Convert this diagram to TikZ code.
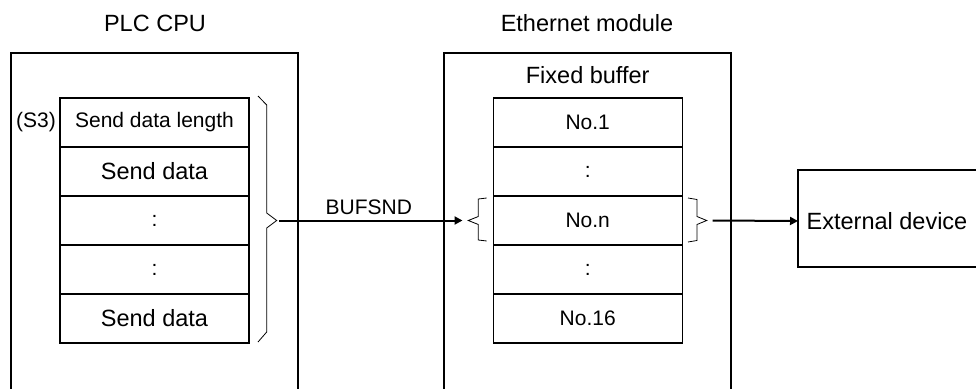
\documentclass[tikz,border=0pt]{standalone}
\usepackage{fontspec}
\setmainfont{Liberation Sans}
\usetikzlibrary{arrows.meta}
\begin{document}
\begin{tikzpicture}[x=1pt,y=-1pt,
  big/.style={font=\fontsize{23.5}{28}\selectfont},
  small/.style={font=\fontsize{21}{25}\selectfont},
  cell/.style={draw,line width=1.2pt,minimum width=189pt,minimum height=49pt,inner sep=0pt,anchor=center},
  frame/.style={line width=1.2pt},
  brace/.style={line width=0.8pt},
  conn/.style={line width=2pt,-{Triangle[length=8pt,width=8pt]}}]
\useasboundingbox (0,0) rectangle (976,388);
% titles
\node[big] (plct) at (155,23) {PLC CPU};
\node[big] (etht) at (587,23) {Ethernet module};
% outer frames (open at the bottom / right)
\draw[frame] (11,392) -- (11,53) -- (298,53) -- (298,392);
\draw[frame] (444,392) -- (444,53) -- (731,53) -- (731,392);
\draw[frame] (980,170) -- (798,170) -- (798,267) -- (980,267);
% PLC table
\node[cell,small] (p1) at (154.5,122.5) {Send data length};
\node[cell,big]   (p2) at (154.5,171.5) {Send data};
\node[cell,small] (p3) at (154.5,220.5) {:};
\node[cell,small] (p4) at (154.5,269.5) {:};
\node[cell,big]   (p5) at (154.5,318.5) {Send data};
\node[small] (s3) at (36,122.5) {(S3)};
% Ethernet table
\node[big] (fb) at (587.7,75) {Fixed buffer};
\node[cell,small] (e1) at (587.7,122.5) {No.1};
\node[cell,small] (e2) at (587.7,171.5) {:};
\node[cell,small] (e3) at (587.7,220.5) {No.n};
\node[cell,small] (e4) at (587.7,269.5) {:};
\node[cell,small] (e5) at (587.7,318.5) {No.16};
% external device
\node[big] (ext) at (887,221) {External device};
\coordinate (extw) at (798,221);
% braces
\draw[brace] (258,96) -- (266.7,105) -- (266.7,213) -- (276.7,220.5) -- (266.7,228) -- (266.7,332) -- (258,342);
\coordinate (b1) at (279,220.5);
\draw[brace] (486.7,198) -- (478.3,199) -- (478.3,216.5) -- (468.3,220.5) -- (478.3,224.5) -- (478.3,240) -- (486.7,241);
\coordinate (b2) at (462.5,220.5);
\draw[brace] (688,198) -- (697,199.5) -- (697,216.5) -- (706.7,220.5) -- (697,224.5) -- (697,240.5) -- (688,242);
\coordinate (b3) at (712.7,220.5);
% connectors
\draw[conn] (b1) -- node[small,above=1pt,xshift=-2pt] (lab) {BUFSND} (b2);
\draw[conn] (b3) -- (extw);
\end{tikzpicture}
\end{document}
